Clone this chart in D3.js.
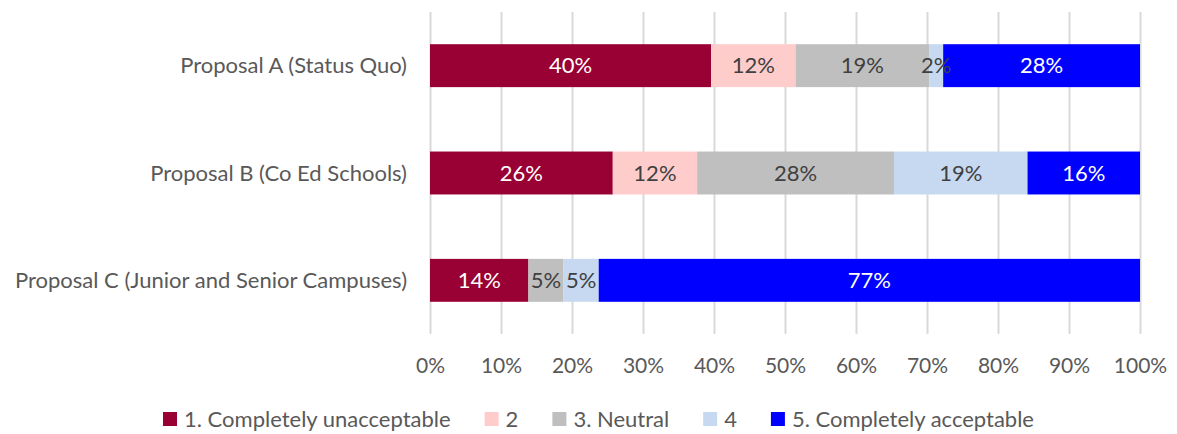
<!DOCTYPE html>
<html>
<head>
<meta charset="utf-8">
<script src="https://cdn.jsdelivr.net/npm/d3@7"></script>
<style>
  html, body { margin: 0; padding: 0; background: #ffffff; }
  svg text { font-family: Lato, "Liberation Sans", sans-serif; }
</style>
</head>
<body>
<svg id="chart" width="1177" height="434"></svg>
<script>
// Survey responses per proposal (percent of respondents, as labelled)
const proposals = [
  "Proposal A (Status Quo)",
  "Proposal B (Co Ed Schools)",
  "Proposal C (Junior and Senior Campuses)"
];
const responseLevels = [
  "1. Completely unacceptable",
  "2",
  "3. Neutral",
  "4",
  "5. Completely acceptable"
];
const level1 = [40, 26, 14];
const level2 = [12, 12, 0];
const level3 = [19, 28, 5];
const level4 = [2, 19, 5];
const level5 = [28, 16, 77];
const tickValues = [0, 0.1, 0.2, 0.3, 0.4, 0.5, 0.6, 0.7, 0.8, 0.9, 1.0];

const levelColors = ["#990033", "#FFCCCC", "#BFBFBF", "#C6D9F1", "#0000FF"];
const labelColors = ["#ffffff", "#404040", "#404040", "#404040", "#ffffff"];
const fontSize = 22;
const tickFontSize = 21;

const seriesValues = [level1, level2, level3, level4, level5];

// Rows normalised so each bar spans the full 100%
const rows = proposals.map((name, i) => {
  const row = { name };
  responseLevels.forEach((lvl, k) => { row[lvl] = seriesValues[k][i]; });
  row.total = d3.sum(seriesValues, s => s[i]);
  return row;
});
const normalised = rows.map(r => {
  const o = { name: r.name };
  responseLevels.forEach(lvl => { o[lvl] = r[lvl] / r.total; });
  return o;
});

const stack = d3.stack().keys(responseLevels);
const layers = stack(normalised);

const svg = d3.select("#chart");
const plot = { left: 430, right: 1140, top: 12, bottom: 334 };

const x = d3.scaleLinear().domain([0, 1]).range([plot.left, plot.right]);
const y = d3.scaleBand().domain(proposals)
  .range([plot.top, plot.bottom])
  .paddingInner(0.6).paddingOuter(0.3);

// Vertical gridlines and percentage ticks
const xAxis = d3.axisBottom(x)
  .tickValues(tickValues)
  .tickFormat(d3.format(".0%"))
  .tickSize(-(plot.bottom - plot.top))
  .tickPadding(0);
const gx = svg.append("g")
  .attr("transform", `translate(0,${plot.bottom})`)
  .call(xAxis);
gx.select(".domain").remove();
gx.selectAll(".tick line").attr("stroke", "#D9D9D9").attr("stroke-width", 2);
gx.selectAll(".tick text")
  .attr("fill", "#595959")
  .attr("font-size", tickFontSize)
  .attr("dy", null)
  .attr("y", 39);

// Category labels
svg.append("g").selectAll("text")
  .data(proposals)
  .join("text")
  .attr("x", plot.left - 23)
  .attr("y", d => y(d) + y.bandwidth() / 2 + 7.5)
  .attr("text-anchor", "end")
  .attr("fill", "#595959")
  .attr("font-size", fontSize)
  .text(d => d);

// Stacked segments
const layerG = svg.append("g").selectAll("g")
  .data(layers)
  .join("g")
  .attr("fill", (d, k) => levelColors[k]);

layerG.selectAll("rect")
  .data(d => d.map(seg => ({ seg, key: d.key })))
  .join("rect")
  .attr("x", d => x(d.seg[0]))
  .attr("y", d => y(d.seg.data.name))
  .attr("width", d => x(d.seg[1]) - x(d.seg[0]))
  .attr("height", y.bandwidth());

// Value labels centred in each segment
layers.forEach((layer, k) => {
  svg.append("g").selectAll("text")
    .data(layer.filter((seg, i) => seriesValues[k][i] > 0).map(seg => ({
      seg,
      value: seriesValues[k][proposals.indexOf(seg.data.name)]
    })))
    .join("text")
    .attr("x", d => (x(d.seg[0]) + x(d.seg[1])) / 2)
    .attr("y", d => y(d.seg.data.name) + y.bandwidth() / 2 + 7.5)
    .attr("text-anchor", "middle")
    .attr("fill", labelColors[k])
    .attr("font-size", fontSize)
    .text(d => d.value + "%");
});

// Legend, centred below the axis
const legend = svg.append("g");
const swatch = 14, swatchGap = 7, itemGap = 34;
const items = legend.selectAll("g")
  .data(responseLevels)
  .join("g");
items.append("rect")
  .attr("width", swatch).attr("height", swatch)
  .attr("y", -swatch - 1)
  .attr("fill", (d, k) => levelColors[k]);
items.append("text")
  .attr("x", swatch + swatchGap)
  .attr("fill", "#595959")
  .attr("font-size", fontSize)
  .text(d => d);
const widths = [];
items.each(function () {
  const w = swatch + swatchGap + this.querySelector("text").getComputedTextLength();
  widths.push(w);
});
const totalW = d3.sum(widths) + itemGap * (widths.length - 1);
let cursor = 598.5 - totalW / 2;
items.attr("transform", (d, k) => {
  const t = `translate(${cursor},427)`;
  cursor += widths[k] + itemGap;
  return t;
});
</script>
</body>
</html>
